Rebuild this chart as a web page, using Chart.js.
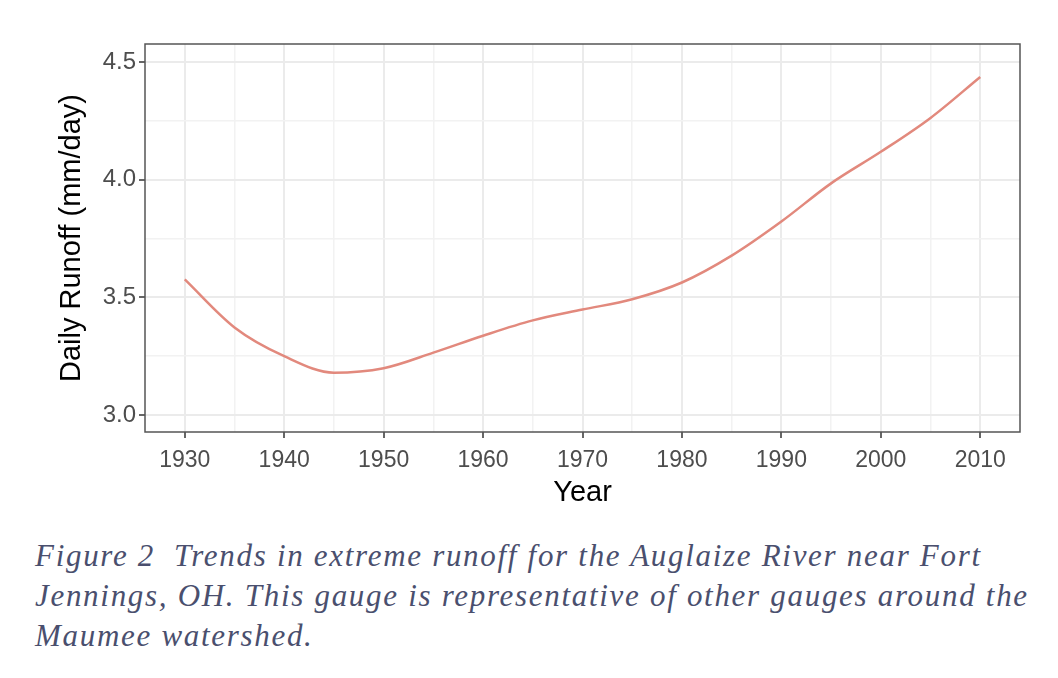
<!DOCTYPE html>
<html>
<head>
<meta charset="utf-8">
<script src="https://cdn.jsdelivr.net/npm/chart.js@4/dist/chart.umd.min.js"></script>
<style>
  body { margin: 0; background: #fff; width: 1058px; height: 678px; overflow: hidden; position: relative; }
  #wrap { position: absolute; left: 0; top: 0; width: 1058px; height: 520px; }
  #caption {
    position: absolute; left: 35px; top: 536px;
    font-family: 'Liberation Serif', serif; font-style: italic;
    font-size: 31px; line-height: 40px; letter-spacing: 1.7px;
    color: #4a4f6e; white-space: nowrap;
  }
</style>
</head>
<body>
<div id="wrap"><canvas id="myChart"></canvas></div>
<div id="caption">Figure 2&nbsp; Trends in extreme runoff for the Auglaize River near Fort<br>Jennings, OH. This gauge is representative of other gauges around the<br>Maumee watershed.</div>
<script>
const years = [1930, 1935, 1940, 1945, 1950, 1955, 1960, 1965, 1970, 1975, 1980, 1985, 1990, 1995, 2000, 2005, 2010];
const runoff = [3.576, 3.372, 3.25, 3.18, 3.199, 3.265, 3.337, 3.402, 3.448, 3.492, 3.563, 3.677, 3.822, 3.984, 4.118, 4.262, 4.436];
const xRange = [1926, 2014];
const yRange = [2.928, 4.576];

const isMajorX = v => v % 10 === 0;
const isMajorY = v => Math.abs(v * 2 - Math.round(v * 2)) < 1e-6;

const panelBorder = {
    id: 'panelBorder',
    afterDraw(chart) {
        const {ctx, chartArea: a} = chart;
        ctx.save();
        ctx.strokeStyle = '#555555';
        ctx.lineWidth = 1.5;
        ctx.strokeRect(a.left, a.top, a.right - a.left, a.bottom - a.top);
        ctx.restore();
    }
};

const renderChart = () => {
    const data = {
        datasets: [{
            data: years.map((y, i) => ({x: y, y: runoff[i]})),
            borderColor: '#e2897d',
            borderWidth: 2.5,
            pointRadius: 0,
            cubicInterpolationMode: 'monotone'
        }]
    };

    const config = {
        type: 'line',
        data: data,
        plugins: [panelBorder],
        options: {
            responsive: true,
            maintainAspectRatio: false,
            animation: false,
            layout: { padding: { left: 0, top: 44, right: 38, bottom: 0 } },
            plugins: { legend: { display: false }, tooltip: { enabled: false } },
            scales: {
                x: {
                    type: 'linear',
                    min: xRange[0],
                    max: xRange[1],
                    afterFit: s => { s.height = 88; },
                    ticks: {
                        stepSize: 5,
                        includeBounds: false,
                        autoSkip: false,
                        maxRotation: 0,
                        padding: 9,
                        color: '#4d4d4d',
                        font: { family: 'Liberation Sans', size: 23 },
                        callback: v => isMajorX(v) ? String(v) : ''
                    },
                    grid: {
                        color: ctx => isMajorX(ctx.tick.value) ? '#ebebeb' : '#f2f2f2',
                        lineWidth: ctx => isMajorX(ctx.tick.value) ? 2 : 1.5,
                        tickColor: ctx => isMajorX(ctx.tick.value) ? '#333333' : 'rgba(0,0,0,0)',
                        tickWidth: 1.5,
                        tickLength: 6
                    },
                    border: { display: false },
                    title: {
                        display: true,
                        text: 'Year',
                        color: '#000',
                        padding: 10,
                        font: { family: 'Liberation Sans', size: 29 }
                    }
                },
                y: {
                    min: yRange[0],
                    max: yRange[1],
                    afterFit: s => { s.width = 145; },
                    ticks: {
                        stepSize: 0.25,
                        includeBounds: false,
                        padding: 3,
                        color: '#4d4d4d',
                        font: { family: 'Liberation Sans', size: 24 },
                        callback: v => isMajorY(v) ? v.toFixed(1) : ''
                    },
                    grid: {
                        color: ctx => isMajorY(ctx.tick.value) ? '#ebebeb' : '#f2f2f2',
                        lineWidth: ctx => isMajorY(ctx.tick.value) ? 2 : 1.5,
                        tickColor: ctx => isMajorY(ctx.tick.value) ? '#333333' : 'rgba(0,0,0,0)',
                        tickWidth: 1.5,
                        tickLength: 6
                    },
                    border: { display: false },
                    title: {
                        display: true,
                        text: 'Daily Runoff (mm/day)',
                        color: '#000',
                        padding: 55,
                        font: { family: 'Liberation Sans', size: 29 }
                    }
                }
            }
        }
    };

    new Chart(document.getElementById('myChart'), config);
};

renderChart();
</script>
</body>
</html>
